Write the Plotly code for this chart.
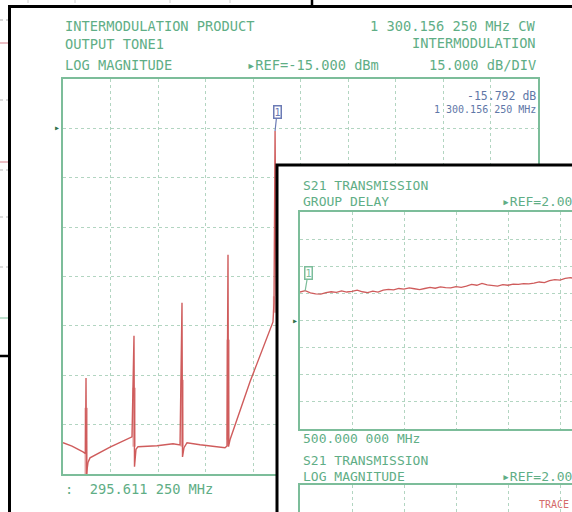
import plotly.graph_objects as go

W, H = 572, 512

MONO = "DejaVu Sans Mono"
GREEN_TEXT = "#5fae86"
GRID = "#b2d5c1"
FRAME = "#7cbd9a"
TRACE_RED = "#cf5c5c"
MARKER_BLUE = "#6c7bb5"

# intermodulation product sweep (front panel), MHz / dBm
imd_freq = [295.6, 338.2, 390.3, 402.2, 404.6, 407.0, 414.0, 423.5, 518.3, 622.4,
            631.9, 634.3, 641.4, 650.9, 740.9, 816.6, 849.9, 859.3, 861.7, 868.8,
            883.0, 944.6, 1063.0, 1072.5, 1077.2, 1079.6, 1086.7, 1181.4, 1290.3,
            1295.1, 1300.156, 1304.9, 1330.0]
imd_level = [-110.5, -111.5, -113.3, -113.8, -90.8, -120.0, -116.5, -115.1, -111.8, -108.7,
             -78.0, -117.8, -112.5, -111.7, -111.4, -110.8, -111.2, -68.0, -114.8, -112.0,
             -110.5, -111.1, -112.0, -111.5, -53.4, -111.7, -109.6, -92.0, -73.8,
             -68.0, -15.792, -66.0, -62.0]

# second (averaged) sweep, only visible as short bars at each product
imd_overlay_freq = [405.5, 632.5, 860.0, 1077.8, 1298.0]
imd_overlay_top = [-99.9, -93.8, -91.4, -79.2, -66.0]
imd_overlay_bottom = [-120.0, -111.7, -111.7, -109.6, -71.0]

marker_freq = 1300.156
marker_level = -15.792

# S21 group delay (inset panel), MHz / ns
gd_freq = [500, 525, 550, 575, 600, 625, 650, 675, 700, 725, 750, 775, 800, 825,
           850, 875, 900, 925, 950, 975, 1000, 1025, 1050, 1075, 1100, 1125, 1150,
           1175, 1200, 1225, 1250, 1275, 1300, 1325, 1350, 1375, 1400, 1425, 1450,
           1475, 1500, 1525, 1550, 1575, 1600, 1625, 1650, 1675, 1700, 1725, 1750,
           1775, 1800, 1825]
gd_delay = [3.05, 3.10, 3.02, 2.98, 2.97, 3.03, 3.06, 3.04, 3.09, 3.05, 3.07, 3.12, 3.06, 3.03,
            3.08, 3.05, 3.12, 3.15, 3.13, 3.18, 3.16, 3.20, 3.17, 3.14, 3.18, 3.22, 3.19,
            3.24, 3.21, 3.20, 3.25, 3.22, 3.27, 3.33, 3.30, 3.37, 3.31, 3.28, 3.27,
            3.32, 3.30, 3.34, 3.33, 3.36, 3.35, 3.38, 3.42, 3.40, 3.47, 3.51, 3.49,
            3.55, 3.58, 3.54]
gd_marker_freq = 525
gd_marker_delay = 3.10


def px(x):
    return x / W


def py(y):
    return 1 - y / H


ov_x, ov_y = [], []
for f, top, bot in zip(imd_overlay_freq, imd_overlay_top, imd_overlay_bottom):
    ov_x += [f, f, None]
    ov_y += [top, bot, None]

fig = go.Figure()
fig.add_trace(go.Scatter(x=ov_x, y=ov_y, mode="lines", xaxis="x", yaxis="y",
                         line=dict(color="rgba(214,110,110,0.55)", width=3.5),
                         hoverinfo="skip", showlegend=False))
fig.add_trace(go.Scatter(x=imd_freq, y=imd_level, mode="lines", xaxis="x", yaxis="y",
                         line=dict(color=TRACE_RED, width=1.4), showlegend=False))
# inset cover (its own background hides the front panel underneath)
fig.add_trace(go.Scatter(x=[None], y=[None], xaxis="x2", yaxis="y2", showlegend=False))
fig.add_trace(go.Scatter(x=gd_freq, y=gd_delay, mode="lines", xaxis="x3", yaxis="y3",
                         line=dict(color=TRACE_RED, width=1.3), showlegend=False))
fig.add_trace(go.Scatter(x=[None], y=[None], xaxis="x4", yaxis="y4", showlegend=False))

grid_ax = dict(showgrid=True, gridcolor=GRID, griddash="dot", gridwidth=1,
               zeroline=False, showticklabels=False, ticks="",
               showline=True, linecolor=FRAME, linewidth=2)

fig.update_layout(
    width=W, height=H,
    margin=dict(l=0, r=0, t=0, b=0),
    paper_bgcolor="white", plot_bgcolor="white",
    showlegend=False,
    xaxis=dict(grid_ax, domain=[px(63), px(538)], range=[295.61125, 2545.61125],
               tick0=295.61125, dtick=225, mirror=True, anchor="y"),
    yaxis=dict(grid_ax, domain=[py(474), py(79)], range=[-120, 0], dtick=15,
               mirror=True, anchor="x"),
    xaxis2=dict(visible=False, domain=[px(276), 1], anchor="y2"),
    yaxis2=dict(visible=False, domain=[0, py(164)], anchor="x2"),
    xaxis3=dict(grid_ax, domain=[px(300), 1], range=[500, 1807.7], tick0=500, dtick=250,
                mirror=True, anchor="y3"),
    yaxis3=dict(grid_ax, domain=[py(429), py(212)], range=[-2, 6], dtick=1, anchor="x3"),
    xaxis4=dict(grid_ax, domain=[px(300), 1], range=[500, 1807.7], tick0=500, dtick=250,
                side="top", anchor="y4"),
    yaxis4=dict(grid_ax, domain=[0, py(485)], range=[0, 1], showgrid=False, anchor="x4"),
)

shapes = []
# panel lying behind everything (only its edges show)
for y, c, d in [(20, "#c9c9c9", "dot"), (43, "#e4a9b0", "solid"), (100, "#d0d0d0", "dot"),
                (162, "#e4a9b0", "solid"), (170, "#d0d0d0", "dot"), (217, "#d0d0d0", "dot"),
                (267, "#d0d0d0", "dot"), (318, "#a9d6bd", "solid")]:
    shapes.append(dict(type="line", xref="paper", yref="paper", x0=0, x1=px(9), y0=py(y), y1=py(y),
                       line=dict(color=c, width=1.5, dash=d), layer="below"))
shapes.append(dict(type="line", xref="paper", yref="paper", x0=0, x1=px(10), y0=py(356), y1=py(356),
                   line=dict(color="black", width=2.5), layer="below"))
for x in [28, 75, 170, 230]:
    shapes.append(dict(type="line", xref="paper", yref="paper", x0=px(x), x1=px(x), y0=1, y1=py(5),
                       line=dict(color="#d0d0d0", width=1, dash="dot"), layer="below"))
shapes.append(dict(type="line", xref="paper", yref="paper", x0=px(312), x1=px(312), y0=1, y1=py(6),
                   line=dict(color="black", width=2.5), layer="below"))
# front panel
shapes.append(dict(type="rect", xref="paper", yref="paper", x0=px(9.5), x1=1.05, y0=-0.05, y1=py(6.5),
                   fillcolor="white", line=dict(color="black", width=3), layer="below"))
# inset panel frame
shapes.append(dict(type="rect", xref="paper", yref="paper", x0=px(277), x1=1.05, y0=-0.05, y1=py(165),
                   fillcolor="rgba(0,0,0,0)", line=dict(color="black", width=3), layer="above"))
fig.update_layout(shapes=shapes)


def label(x, y, text, anchor="left", size=13.7, color=GREEN_TEXT):
    fig.add_annotation(x=px(x), y=py(y), xref="paper", yref="paper", text=text,
                       showarrow=False, xanchor=anchor, yanchor="middle",
                       font=dict(family=MONO, size=size, color=color))


label(63, 26, "INTERMODULATION PRODUCT")
label(63, 44, "OUTPUT TONE1")
label(63, 65, "LOG MAGNITUDE")
label(245, 65, "▸REF=-15.000 dBm")
label(538, 26, "1 300.156 250 MHz CW", "right")
label(538, 43, "INTERMODULATION", "right")
label(538, 65, "15.000 dB/DIV", "right")
label(538, 96, "-15.792 dB", "right", 11.5, "#5f78a8")
label(538, 109, "1 300.156 250 MHz", "right", 10, "#5f78a8")
label(63, 489, ":  295.611 250 MHz")
label(57, 127, "▸", "center", 10, "#2f6f4a")

label(301, 185, "S21 TRANSMISSION", size=13)
label(301, 201, "GROUP DELAY", size=13)
label(500, 201, "▸REF=2.000 ns", size=13)
label(295, 320, "▸", "center", 10, "#2f6f4a")
label(301, 438, "500.000 000 MHz", size=13)
label(301, 460, "S21 TRANSMISSION", size=13)
label(301, 476, "LOG MAGNITUDE", size=13)
label(500, 476, "▸REF=2.000 dB", size=13)
label(537, 504, "TRACE", "left", 10, "#d46a6a")

# markers
fig.add_annotation(x=marker_freq, y=marker_level, xref="x", yref="y", text="1",
                   showarrow=True, arrowhead=0, arrowwidth=1.2, arrowcolor=MARKER_BLUE,
                   ax=2, ay=-19, bordercolor=MARKER_BLUE, borderwidth=1.5, borderpad=0,
                   bgcolor="white", font=dict(family=MONO, size=10, color=MARKER_BLUE))
fig.add_annotation(x=gd_marker_freq, y=gd_marker_delay, xref="x3", yref="y3", text="1",
                   showarrow=True, arrowhead=0, arrowwidth=1.2, arrowcolor=FRAME,
                   ax=3, ay=-18, bordercolor=FRAME, borderwidth=1.5, borderpad=0,
                   bgcolor="white", font=dict(family=MONO, size=10, color=FRAME))

# the page body has a default margin; drop it so the figure fills the window
fig.write_html("out.html", config={"displayModeBar": False},
               post_script="document.body.style.margin='0';")
